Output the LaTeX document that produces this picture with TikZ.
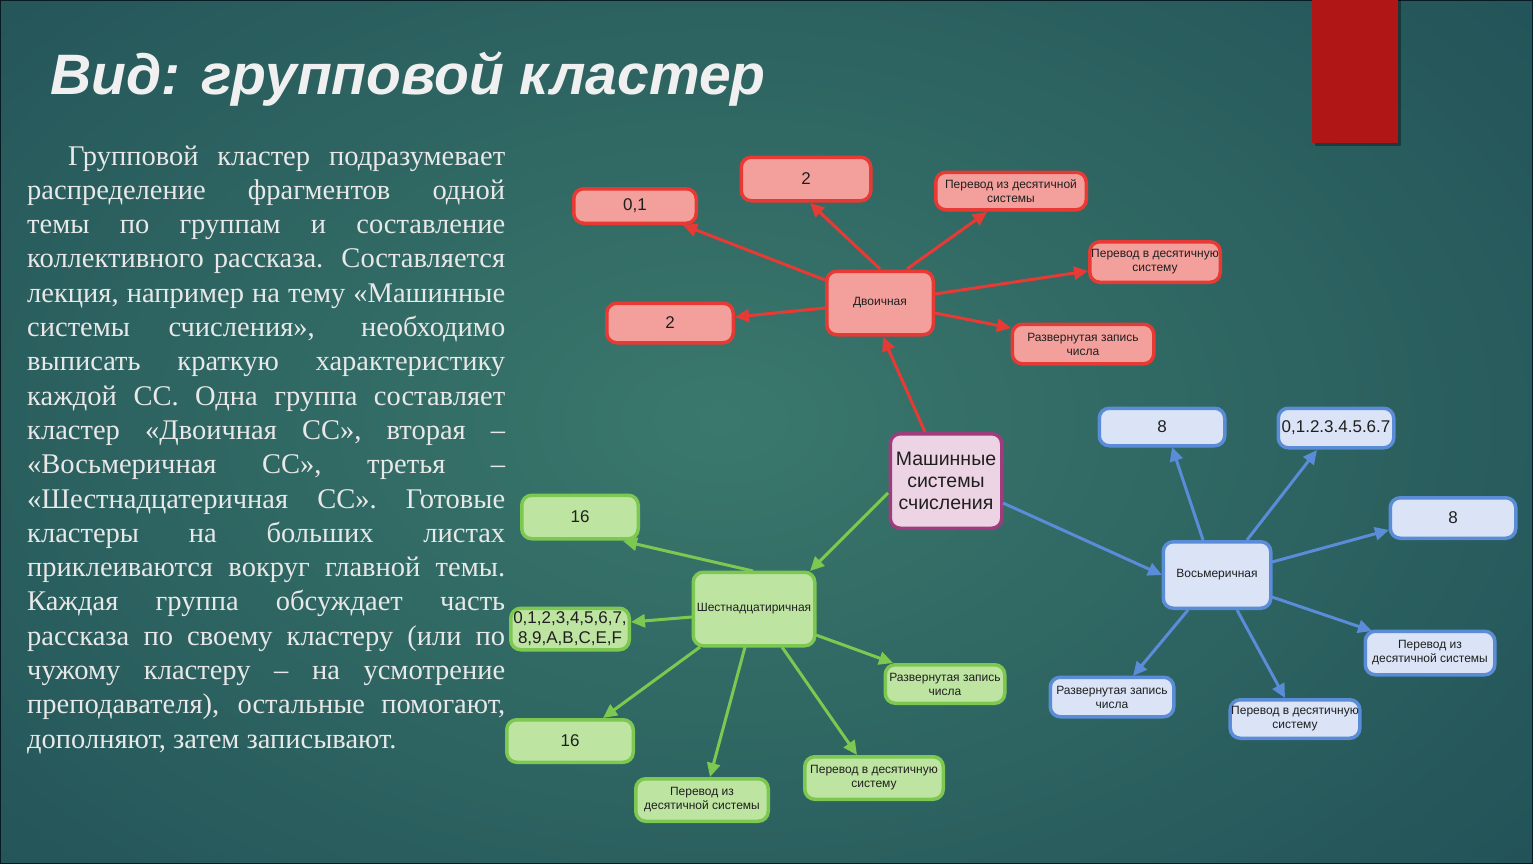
\documentclass[tikz,border=0pt]{standalone}
\usepackage{fontspec}
\setmainfont{Liberation Serif}
\newfontfamily\arial{Liberation Sans}
\usetikzlibrary{arrows.meta,calc}
\definecolor{bgin}{RGB}{58,120,108}
\definecolor{bgout}{RGB}{20,60,76}
\definecolor{redB}{RGB}{232,58,52}
\definecolor{redF}{RGB}{243,160,156}
\definecolor{bluB}{RGB}{90,140,215}
\definecolor{bluF}{RGB}{218,228,246}
\definecolor{grnB}{RGB}{125,200,80}
\definecolor{grnF}{RGB}{190,228,162}
\definecolor{cenB}{RGB}{158,60,125}
\definecolor{cenF}{RGB}{236,212,228}
\definecolor{barred}{RGB}{176,22,22}
\definecolor{txt}{RGB}{232,232,232}
\tikzset{
  box/.style={rounded corners=10pt, line width=3.5pt, align=center, inner sep=1pt,
    text=black!88, font=\arial\fontsize{12}{14}\selectfont},
  rbox/.style={box, draw=redB, fill=redF},
  bbox/.style={box, draw=bluB, fill=bluF},
  gbox/.style={box, draw=grnB, fill=grnF},
  big/.style={font=\arial\fontsize{17}{20}\selectfont},
  sz/.style 2 args={minimum width=#1pt-3.5pt, minimum height=#2pt-3.5pt},
  tipx/.style={-{Triangle[length=14pt,width=13pt]}, line width=3pt},
  rarr/.style={tipx, draw=redB, fill=redB},
  barr/.style={tipx, draw=bluB, fill=bluB},
  garr/.style={tipx, draw=grnB, fill=grnB},
  bodyline/.style={anchor=base west, inner sep=0pt, text=txt, font=\fontsize{28.5}{34}\selectfont}
}
\begin{document}
\begin{tikzpicture}[x=1pt,y=-1pt]
\useasboundingbox (0,0) rectangle (1533,864);
% background
\fill[bgout] (0,0) rectangle (1533,864);
\begin{scope}
  \clip (0,0) rectangle (1533,864);
  \shade[inner color=bgin, outer color=bgout] (720,420) ellipse [x radius=1700, y radius=1100];
\end{scope}
\draw[line width=2pt, black!55!bgout] (0,0) rectangle (1533,864);
% red bar
\fill[black, opacity=0.35] (1315,0) rectangle (1401,146);
\fill[barred] (1312,0) rectangle (1398,143);
% title
\node[anchor=base west, inner sep=0pt, text=white!94!black,
  font=\arial\bfseries\itshape\fontsize{57}{66}\selectfont] (title) at (50,95) {Вид: групповой кластер};
% body text
\node[bodyline] (t1) at (68,165) {\makebox[437pt][s]{Групповой кластер подразумевает}};
\node[bodyline] (t2) at (27,199.3) {\makebox[478pt][s]{распределение фрагментов одной}};
\node[bodyline] (t3) at (27,233.6) {\makebox[478pt][s]{темы по группам и составление}};
\node[bodyline] (t4) at (27,267.9) {\makebox[478pt][s]{коллективного рассказа. Составляется}};
\node[bodyline] (t5) at (27,302.2) {\makebox[478pt][s]{лекция, например на тему «Машинные}};
\node[bodyline] (t6) at (27,336.5) {\makebox[478pt][s]{системы счисления», необходимо}};
\node[bodyline] (t7) at (27,370.8) {\makebox[478pt][s]{выписать краткую характеристику}};
\node[bodyline] (t8) at (27,405.1) {\makebox[478pt][s]{каждой СС. Одна группа составляет}};
\node[bodyline] (t9) at (27,439.4) {\makebox[478pt][s]{кластер «Двоичная СС», вторая –}};
\node[bodyline] (t10) at (27,473.7) {\makebox[478pt][s]{«Восьмеричная СС», третья –}};
\node[bodyline] (t11) at (27,508) {\makebox[478pt][s]{«Шестнадцатеричная СС». Готовые}};
\node[bodyline] (t12) at (27,542.3) {\makebox[478pt][s]{кластеры на больших листах}};
\node[bodyline] (t13) at (27,576.6) {\makebox[478pt][s]{приклеиваются вокруг главной темы.}};
\node[bodyline] (t14) at (27,610.9) {\makebox[478pt][s]{Каждая группа обсуждает часть}};
\node[bodyline] (t15) at (27,645.2) {\makebox[478pt][s]{рассказа по своему кластеру (или по}};
\node[bodyline] (t16) at (27,679.5) {\makebox[478pt][s]{чужому кластеру – на усмотрение}};
\node[bodyline] (t17) at (27,713.8) {\makebox[478pt][s]{преподавателя), остальные помогают,}};
\node[bodyline] (t18) at (27,748.1) {дополняют, затем записывают.};
% red cluster
\node[rbox, sz={126}{38}, big] (r01) at (635,206) {0,1};
\node[rbox, sz={133}{47}, big] (r2a) at (806,179) {2};
\node[rbox, sz={154}{41}] (rpiz) at (1011,191) {Перевод из десятичной\\системы};
\node[rbox, sz={134}{44}] (rpv) at (1155,262) {Перевод в десятичную\\систему};
\node[rbox, sz={110}{67}] (rdv) at (880,303) {Двоичная};
\node[rbox, sz={130}{43}, big] (r2b) at (670,323) {2};
\node[rbox, sz={145}{43}] (rraz) at (1083,344) {Развернутая запись\\числа};
% center
\node[box, draw=cenB, fill=cenF, sz={115}{98}, font=\arial\fontsize{19.5}{22}\selectfont] (c) at (946,481) {Машинные\\системы\\счисления};
% blue cluster
\node[bbox, sz={129}{41}, big] (b8a) at (1162,427) {8};
\node[bbox, sz={119}{43}, font=\arial\fontsize{17}{20}\selectfont] (b07) at (1336,428) {0,1.2.3.4.5.6.7};
\node[bbox, sz={129}{44}, big] (b8b) at (1453,518) {8};
\node[bbox, sz={111}{70}] (bhub) at (1217,575) {Восьмеричная};
\node[bbox, sz={133}{47}] (bpiz) at (1430,653) {Перевод из\\десятичной системы};
\node[bbox, sz={131}{42}] (bpv) at (1295,719) {Перевод в десятичную\\систему};
\node[bbox, sz={127}{43}] (braz) at (1112,697) {Развернутая запись\\числа};
% green cluster
\node[gbox, sz={120}{47}, big] (g16a) at (580,517) {16};
\node[gbox, sz={125}{77}] (ghub) at (754,609) {Шестнадцатиричная};
\node[gbox, sz={122}{45}, font=\arial\fontsize{17}{20}\selectfont] (g0f) at (570,629) {0,1,2,3,4,5,6,7,\\8,9,A,B,C,E,F};
\node[gbox, sz={130}{46}, big] (g16b) at (570,741) {16};
\node[gbox, sz={136}{46}] (gpiz) at (702,800) {Перевод из\\десятичной системы};
\node[gbox, sz={142}{46}] (gpv) at (874,778) {Перевод в десятичную\\систему};
\node[gbox, sz={123}{42}] (graz) at (945,684) {Развернутая запись\\числа};
% red connectors
\draw[rarr] ($(rdv)+(-55,-23)$) -- ($(r01)+(48,19)$);
\draw[rarr] ($(rdv)+(0,-34)$) -- ($(r2a)+(4,24)$);
\draw[rarr] ($(rdv)+(27,-34)$) -- ($(rpiz)+(-24,21)$);
\draw[rarr] ($(rdv)+(55,-9)$) -- ($(rpv)+(-67,9)$);
\draw[rarr] ($(rdv)+(55,10)$) -- ($(rraz)+(-72,-16)$);
\draw[rarr] ($(rdv)+(-55,5)$) -- ($(r2b)+(65,-6)$);
\draw[rarr] ($(c)+(-21,-49)$) -- ($(rdv)+(3,34)$);
% green connectors
\draw[garr] ($(c)+(-58,12)$) -- ($(ghub)+(56,-38)$);
\draw[garr] ($(ghub)+(-1,-38)$) -- ($(g16a)+(43,24)$);
\draw[garr] ($(ghub)+(-62,8)$) -- ($(g0f)+(61,-7)$);
\draw[garr] ($(ghub)+(-54,38)$) -- ($(g16b)+(33,-23)$);
\draw[garr] ($(ghub)+(-9,38)$) -- ($(gpiz)+(8,-23)$);
\draw[garr] ($(ghub)+(28,38)$) -- ($(gpv)+(-17,-23)$);
\draw[garr] ($(ghub)+(62,26)$) -- ($(graz)+(-52,-21)$);
% blue connectors
\draw[barr] ($(c)+(57,22)$) -- ($(bhub)+(-55,0)$);
\draw[barr] ($(bhub)+(-14,-35)$) -- ($(b8a)+(10,20)$);
\draw[barr] ($(bhub)+(30,-35)$) -- ($(b07)+(-19,22)$);
\draw[barr] ($(bhub)+(55,-13)$) -- ($(b8b)+(-64,12)$);
\draw[barr] ($(bhub)+(55,22)$) -- ($(bpiz)+(-58,-22)$);
\draw[barr] ($(bhub)+(20,35)$) -- ($(bpv)+(-10,-21)$);
\draw[barr] ($(bhub)+(-29,35)$) -- ($(braz)+(21,-21)$);
\end{tikzpicture}
\end{document}
